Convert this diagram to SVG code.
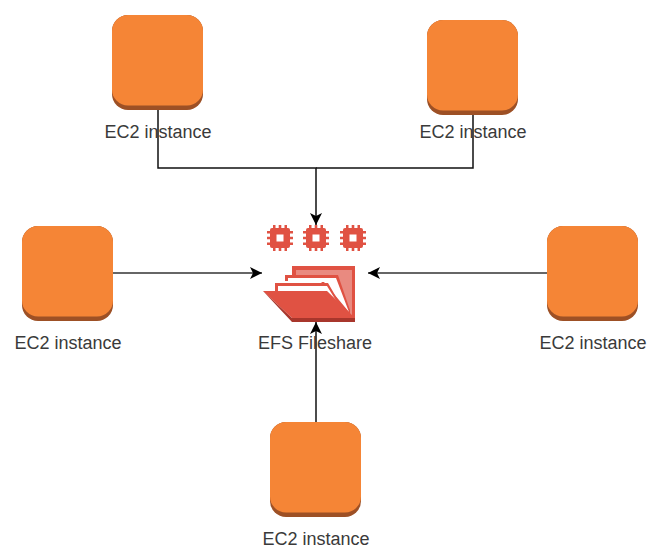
<svg xmlns="http://www.w3.org/2000/svg" width="672" height="560" viewBox="0 0 672 560">
<style>
text{font-family:"Liberation Sans",Arial,sans-serif;font-size:18px;fill:#3a3a3a;text-anchor:middle}
.c{fill:none;stroke:#111;stroke-width:1.5}
.g{fill:none;stroke:#666;stroke-width:2}
.chip{fill:#e05243}
</style>
<defs>
<marker id="a" markerUnits="userSpaceOnUse" markerWidth="14" markerHeight="14" refX="12" refY="6" orient="auto"><path d="M0 0L12 6L0 12L3 6Z" fill="#000"/></marker>
<g id="ec2"><rect x="0" y="0" width="91" height="95" rx="16" fill="#9d5025"/><rect x="0" y="0" width="91" height="90.500" rx="16" fill="#f58536"/></g>
<g id="cpu"><rect class="chip" x="-10" y="-10" width="20" height="20" rx="2"/><path class="chip" d="M-13 -7H13V-4.500H-13ZM-13 -1.300H13V1.300H-13ZM-13 4.500H13V7H-13ZM-7 -13H-4.500V13H-7ZM-1.300 -13H1.300V13H-1.300ZM4.500 -13H7V13H4.500Z"/><rect x="-3.500" y="-3.500" width="7" height="7" fill="#fff"/></g>
</defs>
<g id="connectors">
<path class="c" d="M158 110V168H316V225" marker-end="url(#a)"/>
<path class="c" d="M473 115V168H316"/>
<path class="g" d="M113 273H262" marker-end="url(#a)"/>
<path class="g" d="M547 273H368" marker-end="url(#a)"/>
<path class="c" d="M316 422V322" marker-end="url(#a)"/>
</g>
<g id="ec2-top-left"><use href="#ec2" x="112" y="15"/><text x="158" y="138">EC2 instance</text></g>
<g id="ec2-top-right"><use href="#ec2" x="427" y="20"/><text x="473" y="138">EC2 instance</text></g>
<g id="ec2-left"><use href="#ec2" x="22" y="226"/><text x="68" y="349">EC2 instance</text></g>
<g id="ec2-right"><use href="#ec2" x="547" y="226"/><text x="593" y="349">EC2 instance</text></g>
<g id="ec2-bottom"><use href="#ec2" x="270" y="422"/><text x="316" y="545">EC2 instance</text></g>
<g id="efs">
<use href="#cpu" x="280" y="238"/><use href="#cpu" x="316" y="238"/><use href="#cpu" x="353" y="238"/>
<path d="M292 266H355V320H345L320 280H292Z" fill="#e05243"/>
<path d="M296 270H352V316H348L322 276H296Z" fill="#e98a80"/>
<path d="M285 275H338L350 310V318L322 281H285Z" fill="#e05243"/>
<path d="M288 278H336L349 312L324 282H288Z" fill="#fff"/>
<path d="M275 283H328L346 314V318L320 291H275Z" fill="#e05243"/>
<path d="M278 286H327L345 315L320 291H278Z" fill="#fff"/>
<path d="M263 291H327L355 318H292Z" fill="#e05243"/>
<path d="M263 291L292 318H355V322H292Z" fill="#a8362c"/>
<text x="315" y="349">EFS Fileshare</text>
</g>
</svg>
